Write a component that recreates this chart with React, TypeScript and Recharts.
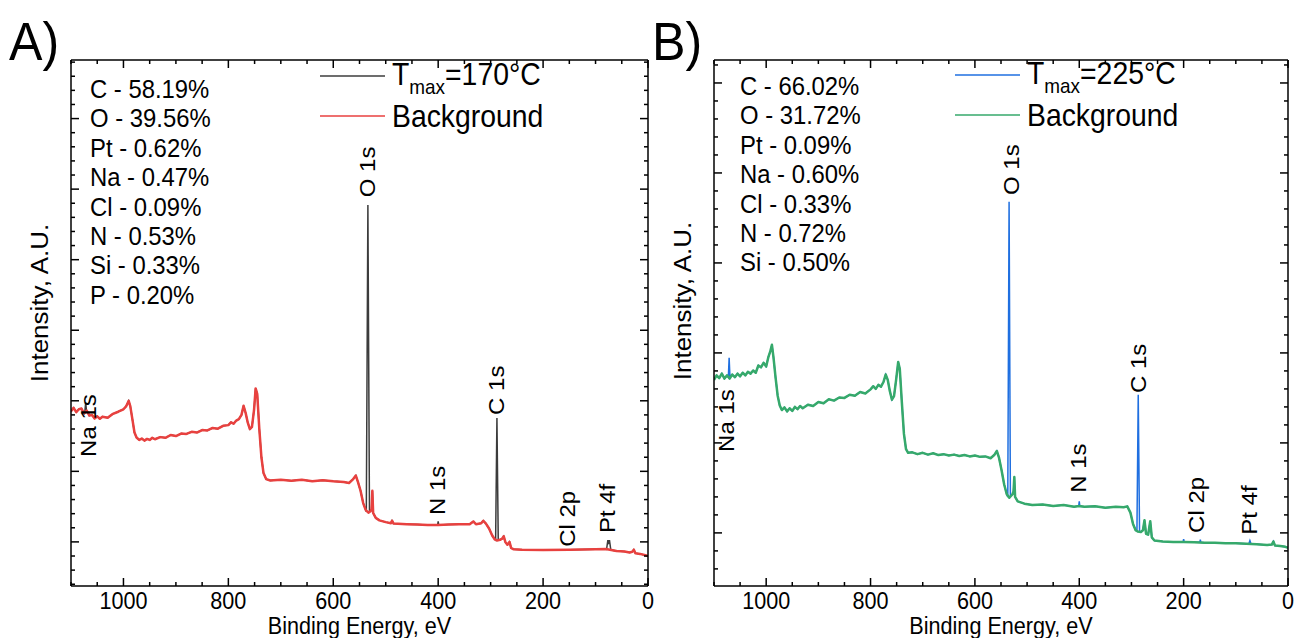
import React from "react"
import { LineChart, Line, XAxis, YAxis, ReferenceDot, Legend } from "recharts"

const FONT = "'Liberation Sans', Arial, Helvetica, sans-serif"
// the original figure is a little narrower than its fonts: squeeze text horizontally
const SQ = 0.9

// binding energy axis (eV), drawn high -> low
const energyTicks = [0, 200, 400, 600, 800, 1000]
const energyMinorTicks = [50, 100, 150, 250, 300, 350, 450, 500, 550, 650, 700, 750, 850, 900, 950, 1050, 1100]

// intensity axis (kcps), no labels in the original
const yMajorA = [20, 40, 60, 80, 100, 120, 140]
const yMinorA = [8, 12, 16, 24, 28, 32, 36, 44, 48, 52, 56, 64, 68, 72, 76, 84, 88, 92, 96, 104, 108, 112, 116, 124, 128, 132, 136, 144, 148, 152, 156]
const yMajorB = [20, 40, 60, 80, 100, 120]
const yMinorB = [12, 16, 24, 28, 32, 36, 44, 48, 52, 56, 64, 68, 72, 76, 84, 88, 92, 96, 104, 108, 112, 116, 124]

// A) Tmax = 170°C : background (Shirley) [eV, kcps]
const backgroundA: [number, number][] = [
  [1100, 57.0], [1095, 58.0], [1090, 56.8], [1085, 57.6], [1080, 57.8], [1075, 56.4], [1070, 57.2],
  [1065, 55.8], [1060, 56.0], [1055, 55.0], [1050, 55.6], [1045, 54.9], [1040, 55.5], [1030, 55.2],
  [1020, 56.3], [1010, 56.9], [1000, 57.6], [995, 58.4], [990, 60.0], [987, 58.5], [983, 54.8],
  [979, 51.0], [975, 49.6], [970, 48.9], [965, 49.3], [960, 48.7], [955, 49.2], [950, 48.9],
  [945, 49.5], [940, 49.1], [930, 49.7], [920, 49.5], [910, 50.3], [900, 50.0], [890, 50.7],
  [880, 50.6], [870, 51.2], [860, 51.0], [850, 51.7], [840, 51.6], [830, 52.3], [820, 52.1],
  [810, 52.9], [800, 53.1], [795, 53.9], [790, 53.5], [785, 54.4], [780, 54.8], [775, 56.0],
  [771, 58.6], [767, 56.5], [763, 53.8], [759, 52.0], [755, 52.6], [751, 57.5], [748, 63.5],
  [745, 62.0], [741, 52.0], [737, 44.0], [733, 39.5], [728, 37.8], [720, 37.4], [700, 37.6],
  [680, 37.3], [660, 37.6], [640, 37.2], [620, 37.5], [600, 37.2], [580, 37.0], [570, 36.7],
  [562, 37.8], [557, 38.8], [553, 37.0], [548, 34.5], [543, 31.0], [538, 29.0], [533, 28.3],
  [529, 28.7], [527, 29.2], [525.5, 34.5], [524, 28.2], [519, 26.8], [512, 26.1], [500, 25.6],
  [490, 25.3], [488, 26.0], [485, 25.2], [460, 25.0], [440, 24.9], [420, 24.8], [400, 24.8],
  [380, 24.9], [360, 25.0], [340, 25.0], [333, 25.8], [328, 25.0], [318, 25.3], [314, 26.0],
  [309, 25.2], [303, 23.8], [297, 21.8], [292, 20.7], [288, 20.4], [282, 20.6], [278, 20.9],
  [275, 21.6], [272, 20.0], [268, 19.2], [264, 20.0], [261, 18.3], [256, 17.9], [240, 17.8],
  [200, 17.7], [150, 17.8], [100, 17.9], [80, 18.0], [70, 17.7], [60, 17.4], [45, 17.3],
  [35, 17.0], [30, 17.2], [27, 17.8], [24, 16.8], [15, 16.6], [5, 16.2], [0, 16.0],
]

// A) photoelectron peaks on top of the background
const peaksA: [number, number][][] = [
  [[1073.5, 57.0], [1072, 59.5], [1070.5, 57.2]], // Na 1s
  [[537, 28.5], [534, 115.5], [531, 28.8]], // O 1s
  [[401, 24.8], [400, 25.8], [399, 24.8]], // N 1s
  [[290.5, 20.5], [288, 55.1], [285.5, 20.5]], // C 1s
  [[79, 17.9], [76.5, 20.5], [75, 19.8], [73.5, 20.5], [71, 17.8]], // Pt 4f
]

// B) Tmax = 225°C : background (Shirley) [eV, kcps]
const backgroundB: [number, number][] = [
  [1100, 54.0], [1095, 55.0], [1090, 54.4], [1085, 55.4], [1080, 54.3], [1075, 55.0], [1070, 54.3],
  [1065, 55.2], [1060, 54.6], [1055, 55.4], [1050, 54.8], [1045, 55.6], [1040, 55.0], [1035, 55.8],
  [1030, 55.4], [1025, 56.1], [1020, 55.6], [1015, 57.2], [1010, 56.8], [1005, 57.8], [1000, 57.0],
  [996, 59.0], [992, 60.4], [989, 61.8], [986, 59.0], [982, 54.5], [978, 50.5], [974, 48.3],
  [970, 47.3], [965, 47.9], [960, 47.0], [955, 47.7], [950, 47.1], [945, 48.0], [940, 47.5],
  [935, 48.2], [930, 47.7], [920, 48.5], [910, 48.2], [900, 49.1], [890, 48.8], [880, 49.7],
  [870, 49.4], [860, 50.1], [850, 50.0], [840, 50.7], [830, 50.5], [820, 51.3], [810, 51.0],
  [800, 51.9], [795, 52.6], [790, 52.0], [785, 52.9], [780, 52.5], [775, 53.6], [771, 55.2],
  [767, 54.0], [763, 51.5], [759, 49.6], [755, 50.4], [751, 54.0], [747, 58.0], [744, 56.5],
  [740, 49.0], [736, 42.0], [732, 38.6], [728, 37.8], [720, 37.9], [710, 37.5], [700, 37.8],
  [690, 37.4], [680, 37.7], [670, 37.3], [660, 37.5], [650, 37.2], [640, 37.4], [630, 37.1],
  [620, 37.3], [610, 37.0], [600, 37.2], [590, 36.9], [580, 37.0], [570, 36.6], [563, 37.3],
  [558, 38.2], [554, 36.8], [549, 34.0], [544, 30.8], [539, 28.6], [534, 27.8], [528, 28.6],
  [526, 29.2], [524.5, 32.4], [523, 28.0], [518, 27.0], [505, 26.5], [490, 26.2], [470, 26.3],
  [450, 26.0], [430, 26.2], [410, 25.8], [400, 26.0], [390, 25.8], [370, 25.9], [350, 25.6],
  [330, 25.8], [315, 25.7], [308, 25.9], [302, 24.5], [297, 22.0], [292, 20.6], [288, 20.3],
  [282, 20.2], [278, 20.6], [275, 22.8], [272, 19.8], [268, 19.6], [264, 22.6], [261, 19.0],
  [256, 18.3], [240, 18.1], [220, 18.0], [200, 18.0], [180, 17.9], [160, 17.8], [140, 17.8],
  [120, 17.7], [100, 17.7], [80, 17.6], [60, 17.5], [40, 17.3], [31, 17.4], [28, 18.1],
  [25, 17.2], [15, 17.1], [5, 16.9], [0, 16.7],
]

const peaksB: [number, number][][] = [
  [[1072.5, 54.6], [1071, 58.9], [1069.5, 54.8]], // Na 1s
  [[537, 28.0], [534.5, 93.6], [532, 28.2]], // O 1s
  [[401, 26.0], [400, 27.0], [399, 25.9]], // N 1s
  [[289.5, 20.4], [287, 50.7], [284.5, 20.2]], // C 1s
  [[201, 18.0], [200, 18.6], [199, 18.0]], // Cl 2p
  [[169, 17.9], [168, 18.5], [167, 17.9]],
  [[75, 17.6], [73, 18.3], [71, 17.6]], // Pt 4f
]

// peak annotations: [label, eV, kcps at the text start]
const peakLabelsA: [string, number, number][] = [
  ["Na 1s", 1066, 44.1],
  ["O 1s", 534, 117.7],
  ["N 1s", 401, 27.6],
  ["C 1s", 288, 56.0],
  ["Cl 2p", 154, 18.6],
  ["Pt 4f", 77, 22.5],
]
const peakLabelsB: [string, number, number][] = [
  ["Na 1s", 1076, 38.0],
  ["O 1s", 530, 95.1],
  ["N 1s", 402, 28.9],
  ["C 1s", 287, 51.1],
  ["Cl 2p", 175, 20.0],
  ["Pt 4f", 73, 19.6],
]

const compositionA = ["C - 58.19%", "O - 39.56%", "Pt - 0.62%", "Na - 0.47%", "Cl - 0.09%", "N - 0.53%", "Si - 0.33%", "P - 0.20%"]
const compositionB = ["C - 66.02%", "O - 31.72%", "Pt - 0.09%", "Na - 0.60%", "Cl - 0.33%", "N - 0.72%", "Si - 0.50%"]

type Row = { e: number; v: number }

const toRows = (pts: [number, number][]): Row[] => pts.map(([e, v]) => ({ e, v }))

// measured spectrum = background with the peak windows replaced by the peaks
const buildSpectrum = (bg: [number, number][], peaks: [number, number][][]): Row[] => {
  const kept = bg.filter(([e]) =>
    peaks.every((p) => {
      const hi = Math.max(...p.map((q) => q[0]))
      const lo = Math.min(...p.map((q) => q[0]))
      return e >= hi || e <= lo
    })
  )
  const all = [...kept, ...peaks.flat()].sort((a, b) => b[0] - a[0])
  return toRows(all)
}

const frame = { stroke: "#000", strokeWidth: 1.5 }
const THIN = 0.01 // tick-only axes take (almost) no room
const NoLabel = () => <g />

const EnergyTick = (props: any) => {
  const { x, y, payload } = props
  return (
    <g transform={`translate(${x},${y}) scale(${SQ},1)`}>
      <text x={0} y={0} dy="0.71em" textAnchor="middle" fontSize={24} fontFamily={FONT} fill="#000">
        {payload.value}
      </text>
    </g>
  )
}

const PeakText = (label: string) => (props: any) => {
  const { cx, cy } = props
  return (
    <g transform={`translate(${cx},${cy}) scale(${SQ},1) rotate(-90)`}>
      <text x={0} y={0} textAnchor="start" dominantBaseline="central" fontSize={24} fontFamily={FONT} fill="#000">
        {label}
      </text>
    </g>
  )
}

const XTitle = (props: any) => {
  const { viewBox } = props
  const cx = viewBox.x + viewBox.width / 2
  const by = viewBox.y + viewBox.height - 4
  return (
    <g transform={`translate(${cx},${by}) scale(${SQ},1)`}>
      <text x={0} y={0} textAnchor="middle" fontSize={24} fontFamily={FONT} fill="#000">
        Binding Energy, eV
      </text>
    </g>
  )
}

interface PanelProps {
  left: number
  width: number
  marginRight: number
  letter: string
  temp: string
  spectrum: Row[]
  background: Row[]
  specColor: string
  bgColor: string
  yDomain: [number, number]
  yMajor: number[]
  yMinor: number[]
  labels: [string, number, number][]
  composition: string[]
  compTop: number
  compLeft: number
  legendLeft: number
  legendTop: number
  titleY: number
}

const squeeze: React.CSSProperties = { transform: `scaleX(${SQ})`, transformOrigin: "left center" }

const Panel: React.FC<PanelProps> = (p) => {
  const legend = () => (
    <div style={{ fontFamily: FONT, color: "#000", whiteSpace: "nowrap" }}>
      <div style={{ display: "flex", alignItems: "center", height: 40 }}>
        <svg width={65} height={4} style={{ flex: "none" }}>
          <line x1={0} y1={2} x2={65} y2={2} stroke={p.specColor} strokeWidth={1.5} />
        </svg>
        <div style={{ marginLeft: 7, fontSize: 31.5, lineHeight: "40px", ...squeeze }}>
          T<span style={{ fontSize: 21, position: "relative", top: 9 }}>max</span>={p.temp}
        </div>
      </div>
      <div style={{ display: "flex", alignItems: "center", height: 40 }}>
        <svg width={65} height={4} style={{ flex: "none" }}>
          <line x1={0} y1={2} x2={65} y2={2} stroke={p.bgColor} strokeWidth={1.5} />
        </svg>
        <div style={{ marginLeft: 7, fontSize: 31.5, lineHeight: "40px", ...squeeze }}>Background</div>
      </div>
    </div>
  )

  const xCommon = {
    type: "number" as const,
    dataKey: "e",
    domain: [0, 1100] as [number, number],
    reversed: true,
    allowDataOverflow: true,
    interval: 0,
  }

  return (
    <div style={{ position: "absolute", left: p.left, top: 0, width: p.width, height: 638 }}>
      <LineChart width={p.width} height={638} margin={{ top: 60, right: p.marginRight, bottom: 0, left: 71 }}>
        {/* minor ticks along the bottom, drawn inward */}
        <XAxis xAxisId="bMin" {...xCommon} ticks={energyMinorTicks} height={THIN}
          tick={NoLabel} tickSize={-4} tickLine={frame} axisLine={false} />
        {/* bottom axis: frame line, inward major ticks and the labels */}
        <XAxis
          xAxisId="lab"
          {...xCommon}
          ticks={energyTicks}
          tickLine={frame}
          axisLine={frame}
          height={52}
          tickSize={-8}
          tickMargin={14}
          tick={<EnergyTick />}
          label={<XTitle />}
        />
        {/* top axis */}
        <XAxis xAxisId="tMaj" orientation="top" {...xCommon} ticks={energyTicks} height={THIN}
          tick={NoLabel} tickSize={-8} tickLine={frame} axisLine={frame} />
        <XAxis xAxisId="tMin" orientation="top" {...xCommon} ticks={energyMinorTicks} height={THIN}
          tick={NoLabel} tickSize={-4} tickLine={frame} axisLine={false} />

        <YAxis yAxisId="y" type="number" domain={p.yDomain} allowDataOverflow ticks={p.yMajor} interval={0}
          mirror width={THIN} tick={NoLabel} tickSize={8} tickLine={frame} axisLine={frame} />
        <YAxis yAxisId="yMin" type="number" domain={p.yDomain} allowDataOverflow ticks={p.yMinor} interval={0}
          mirror width={THIN} tick={NoLabel} tickSize={4} tickLine={frame} axisLine={false} />
        <YAxis yAxisId="rMaj" orientation="right" type="number" domain={p.yDomain} allowDataOverflow ticks={p.yMajor} interval={0}
          mirror width={THIN} tick={NoLabel} tickSize={8} tickLine={frame} axisLine={frame} />
        <YAxis yAxisId="rMin" orientation="right" type="number" domain={p.yDomain} allowDataOverflow ticks={p.yMinor} interval={0}
          mirror width={THIN} tick={NoLabel} tickSize={4} tickLine={frame} axisLine={false} />

        <Legend
          layout="vertical"
          align="center"
          verticalAlign="middle"
          content={legend}
          wrapperStyle={{ left: p.legendLeft, top: p.legendTop, width: "auto" }}
        />

        <Line xAxisId="lab" yAxisId="y" data={p.spectrum} dataKey="v" name={"Tmax=" + p.temp} type="linear"
          stroke={p.specColor} strokeWidth={1.5} dot={false} isAnimationActive={false} />
        <Line xAxisId="lab" yAxisId="y" data={p.background} dataKey="v" name="Background" type="linear"
          stroke={p.bgColor} strokeWidth={2.5} strokeLinejoin="round" dot={false} isAnimationActive={false} />

        {p.labels.map(([name, e, v]) => (
          <ReferenceDot key={name} xAxisId="lab" yAxisId="y" x={e} y={v} r={0} shape={PeakText(name)} />
        ))}
      </LineChart>

      <div style={{ position: "absolute", left: 9, top: 14, fontFamily: FONT, fontSize: 54, lineHeight: "54px", transform: "scaleX(0.93)", transformOrigin: "left center" }}>
        {p.letter}
      </div>
      <div
        style={{
          position: "absolute",
          left: 40,
          top: p.titleY,
          transform: `translate(-50%, -50%) scaleX(${SQ}) rotate(-90deg)`,
          fontFamily: FONT,
          fontSize: 26,
          lineHeight: "30px",
          whiteSpace: "nowrap",
        }}
      >
        Intensity, A.U.
      </div>
      <div style={{ position: "absolute", left: p.compLeft, top: p.compTop, fontFamily: FONT, fontSize: 26.5, lineHeight: "29.4px", whiteSpace: "nowrap", ...squeeze }}>
        {p.composition.map((c) => (
          <div key={c}>{c}</div>
        ))}
      </div>
    </div>
  )
}

const App: React.FC = () => {
  const specA = buildSpectrum(backgroundA, peaksA)
  const specB = buildSpectrum(backgroundB, peaksB)
  return (
    <div style={{ position: "absolute", left: 0, top: 0, width: 1295, height: 638, background: "#fff", overflow: "hidden" }}>
      <Panel
        left={0}
        width={660}
        marginRight={12}
        letter="A)"
        temp="170°C"
        spectrum={specA}
        background={toRows(backgroundA)}
        specColor="#3c3c3c"
        bgColor="#e8413f"
        yDomain={[7.5, 156.6]}
        yMajor={yMajorA}
        yMinor={yMinorA}
        labels={peakLabelsA}
        composition={compositionA}
        compLeft={90}
        compTop={75}
        legendLeft={320}
        legendTop={56}
        titleY={303}
      />
      <Panel
        left={643}
        width={652}
        marginRight={7}
        letter="B)"
        temp="225°C"
        spectrum={specB}
        background={toRows(backgroundB)}
        specColor="#1f6fe0"
        bgColor="#36a96b"
        yDomain={[8.2, 125.1]}
        yMajor={yMajorB}
        yMinor={yMinorB}
        labels={peakLabelsB}
        composition={compositionB}
        compLeft={97}
        compTop={72}
        legendLeft={312}
        legendTop={55}
        titleY={301}
      />
    </div>
  )
}

export default App
